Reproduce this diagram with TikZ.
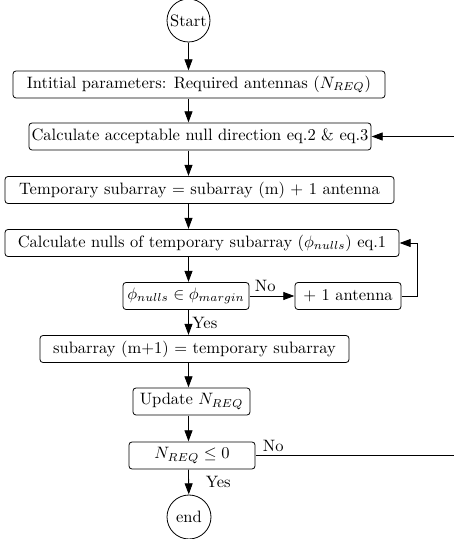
\documentclass[tikz,border=0pt]{standalone}
\usetikzlibrary{arrows.meta,calc}
\def\sc{1.65}
\begin{document}
\begin{tikzpicture}[x=1pt,y=1pt,
  every node/.style={font=\fontsize{10pt}{12pt}\selectfont, scale=\sc, transform shape},
  box/.style={draw, rounded corners=3pt, line width=0.8pt, minimum height={27pt/\sc}, inner sep=1pt},
  term/.style={draw, circle, line width=0.8pt, inner sep=0pt},
  arr/.style={line width=0.8pt, -{Triangle[length=11pt,width=8pt]}},
  lbl/.style={inner sep=2pt}
]
\useasboundingbox (0,0) rectangle (454,539);
\node[term, minimum size={43pt/\sc}] (start) at (188.5,518.5) {Start};
\node[box, minimum width={372pt/\sc}] (n1) at (199,454.5) {Intitial parameters: Required antennas ($N_{REQ}$)};
\node[box, minimum width={342pt/\sc}] (n2) at (200,402.5) {Calculate acceptable null direction eq.2 \& eq.3};
\node[box, minimum width={389pt/\sc}] (n3) at (199.5,349) {Temporary subarray = subarray (m) + 1 antenna};
\node[box, minimum width={394pt/\sc}] (n4) at (202,296) {Calculate nulls of temporary subarray ($\phi_{nulls}$) eq.1};
\node[box, minimum width={126pt/\sc}] (n5) at (186,243) {$\phi_{nulls} \in \phi_{margin}$};
\node[box, minimum width={106pt/\sc}] (n6) at (348,243) {+ 1 antenna};
\node[box, minimum width={309pt/\sc}] (n7) at (194.5,190) {subarray (m+1) = temporary subarray};
\node[box, minimum width={117pt/\sc}] (n8) at (191.5,137.5) {Update $N_{REQ}$};
\node[box, minimum width={126pt/\sc}] (n9) at (192,83.5) {$N_{REQ} \leq 0$};
\node[term, minimum size={44pt/\sc}] (end) at (189,22) {end};

\draw[arr] (start) -- (n1.north -| start);
\draw[arr] (n1.south -| start) -- (n2.north -| start);
\draw[arr] (n2.south -| start) -- (n3.north -| start);
\draw[arr] (n3.south -| start) -- (n4.north -| start);
\draw[arr] (n4.south -| start) -- (n5.north -| start);
\draw[arr] (n5) -- node[lbl, above, pos=0.35] {No} (n6);
\draw[arr] (n6.east) -- ++(16,0) |- (n4.east);
\draw[arr] (n5.south -| start) -- node[lbl, right, midway] {Yes} (n7.north -| start);
\draw[arr] (n7.south -| start) -- (n8.north -| start);
\draw[arr] (n8.south -| start) -- (n9.north -| start);
\draw[arr] (n9.south -| start) -- node[lbl, right, midway, xshift=8pt] {Yes} (end);
\begin{scope}
\clip (0,0) rectangle (454,539);
\draw[arr] (n9.east) -- node[lbl, above right, pos=0, xshift=2pt] {No} (470,83.5) |- (n2.east);
\end{scope}
\end{tikzpicture}
\end{document}
